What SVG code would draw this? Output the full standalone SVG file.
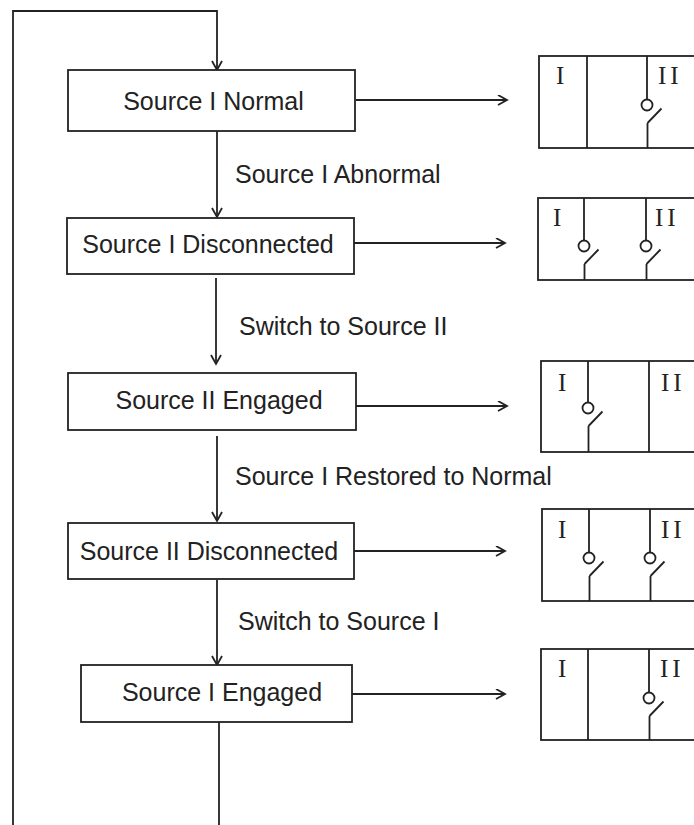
<svg xmlns="http://www.w3.org/2000/svg" width="694" height="825" viewBox="0 0 694 825">
<style>
.box{fill:#fff;stroke:#222;stroke-width:1.8}
.ln{fill:none;stroke:#222;stroke-width:1.8}
.t{font-family:"Liberation Sans",Arial,sans-serif;font-size:25px;fill:#222}
.r{font-family:"Liberation Serif","Times New Roman",serif;font-size:25px;fill:#222}
.rr{font-family:"Liberation Serif","Times New Roman",serif;font-size:25px;fill:#222;letter-spacing:4px}
.sw{fill:none;stroke:#222;stroke-width:1.8}
</style>
<defs>
<marker id="ah" markerUnits="userSpaceOnUse" markerWidth="12" markerHeight="12" refX="10" refY="5.5" orient="auto">
<path d="M1,0.5 L10,5.5 L1,10.5" fill="none" stroke="#222" stroke-width="1.8"/>
</marker>
</defs>
<rect width="694" height="825" fill="#fff"/>
<g id="connectors">
<polyline class="ln" points="13,825 13,11 217,11 217,70" marker-end="url(#ah)"/>
<line class="ln" x1="217" y1="131" x2="217" y2="217" marker-end="url(#ah)"/>
<line class="ln" x1="216" y1="278" x2="216" y2="364" marker-end="url(#ah)"/>
<line class="ln" x1="217" y1="436" x2="217" y2="521" marker-end="url(#ah)"/>
<line class="ln" x1="217" y1="580" x2="217" y2="665" marker-end="url(#ah)"/>
<line class="ln" x1="219" y1="722" x2="219" y2="825"/>
<line class="ln" x1="356" y1="100" x2="507" y2="100" marker-end="url(#ah)"/>
<line class="ln" x1="354" y1="243" x2="505" y2="243" marker-end="url(#ah)"/>
<line class="ln" x1="356" y1="406" x2="507" y2="406" marker-end="url(#ah)"/>
<line class="ln" x1="354" y1="551" x2="505" y2="551" marker-end="url(#ah)"/>
<line class="ln" x1="352" y1="694" x2="505" y2="694" marker-end="url(#ah)"/>
<text class="t" x="235" y="183">Source I Abnormal</text>
<text class="t" x="239" y="335">Switch to Source II</text>
<text class="t" x="235" y="485">Source I Restored to Normal</text>
<text class="t" x="238" y="630">Switch to Source I</text>
</g>
<g id="n1">
<rect class="box" x="68" y="70" width="287" height="61"/>
<text class="t" x="213.5" y="110" text-anchor="middle">Source I Normal</text>
</g>
<g id="n2">
<rect class="box" x="67" y="218" width="287" height="56"/>
<text class="t" x="208" y="253" text-anchor="middle">Source I Disconnected</text>
</g>
<g id="n3">
<rect class="box" x="68" y="373" width="288" height="57"/>
<text class="t" x="219" y="409" text-anchor="middle">Source II Engaged</text>
</g>
<g id="n4">
<rect class="box" x="68" y="523" width="286" height="56"/>
<text class="t" x="209" y="560" text-anchor="middle">Source II Disconnected</text>
</g>
<g id="n5">
<rect class="box" x="81" y="665" width="271" height="57"/>
<text class="t" x="222" y="701" text-anchor="middle">Source I Engaged</text>
</g>
<g id="p1">
<rect class="sw" x="539" y="56" width="170" height="92"/>
<line class="sw" x1="587" y1="56" x2="587" y2="148"/>
<path class="sw" d="M647,56 V99.5 M647.5,123 L661.5,108.5 M647.5,123 V148"/>
<circle class="sw" cx="647" cy="105" r="5.5"/>
<text class="r" x="556" y="84">I</text>
<text class="rr" x="658" y="84">II</text>
</g>
<g id="p2">
<rect class="sw" x="538" y="198" width="170" height="82"/>
<path class="sw" d="M584,198 V240.5 M584.5,264 L598.5,249.5 M584.5,264 V280"/>
<circle class="sw" cx="584" cy="246" r="5.5"/>
<path class="sw" d="M646,198 V240.5 M646.5,264 L660.5,249.5 M646.5,264 V280"/>
<circle class="sw" cx="646" cy="246" r="5.5"/>
<text class="r" x="553" y="226">I</text>
<text class="rr" x="655" y="226">II</text>
</g>
<g id="p3">
<rect class="sw" x="541" y="361" width="170" height="91"/>
<line class="sw" x1="649" y1="361" x2="649" y2="452"/>
<path class="sw" d="M588,361 V402.5 M588.5,426 L602.5,411.5 M588.5,426 V452"/>
<circle class="sw" cx="588" cy="408" r="5.5"/>
<text class="r" x="558" y="391">I</text>
<text class="rr" x="661" y="391">II</text>
</g>
<g id="p4">
<rect class="sw" x="542" y="509" width="170" height="92"/>
<path class="sw" d="M589,509 V552.5 M589.5,576 L603.5,561.5 M589.5,576 V601"/>
<circle class="sw" cx="589" cy="558" r="5.5"/>
<path class="sw" d="M650,509 V552.5 M650.5,576 L664.5,561.5 M650.5,576 V601"/>
<circle class="sw" cx="650" cy="558" r="5.5"/>
<text class="r" x="558" y="538">I</text>
<text class="rr" x="661" y="538">II</text>
</g>
<g id="p5">
<rect class="sw" x="541" y="649" width="170" height="91"/>
<line class="sw" x1="588" y1="649" x2="588" y2="740"/>
<path class="sw" d="M649,649 V692.5 M649.5,716 L663.5,701.5 M649.5,716 V740"/>
<circle class="sw" cx="649" cy="698" r="5.5"/>
<text class="r" x="558" y="677">I</text>
<text class="rr" x="660" y="677">II</text>
</g>
</svg>
